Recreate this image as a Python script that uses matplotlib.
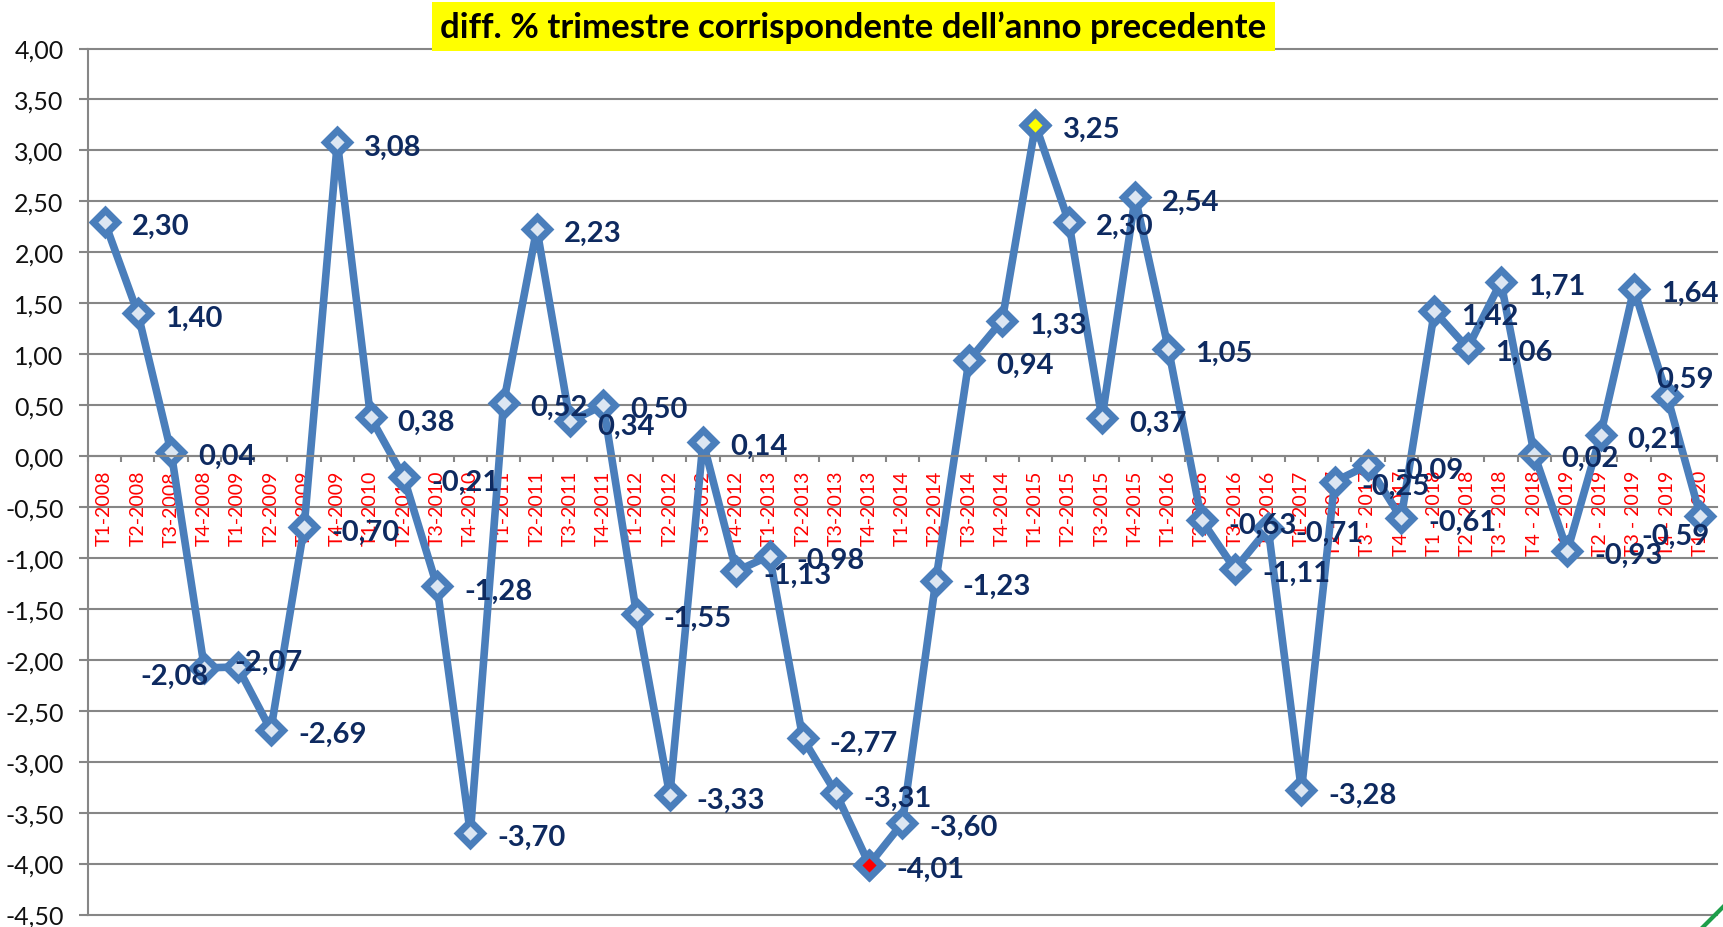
import matplotlib
matplotlib.use("Agg")
import matplotlib.pyplot as plt
from matplotlib.lines import Line2D
from matplotlib.patches import Rectangle
import numpy as np

# ---------------- data ----------------
categories = [
    "T1-2008", "T2-2008", "T3-2008", "T4-2008",
    "T1-2009", "T2-2009", "T3-2009", "T4-2009",
    "T1-2010", "T2-2010", "T3-2010", "T4-2010",
    "T1-2011", "T2-2011", "T3-2011", "T4-2011",
    "T1-2012", "T2-2012", "T3-2012", "T4-2012",
    "T1-2013", "T2-2013", "T3-2013", "T4-2013",
    "T1-2014", "T2-2014", "T3-2014", "T4-2014",
    "T1-2015", "T2-2015", "T3-2015", "T4-2015",
    "T1-2016", "T2-2016", "T3-2016", "T4-2016",
    "T1-2017", "T2 - 2017", "T3 - 2017", "T4 - 2017",
    "T1 - 2018", "T2 - 2018", "T3 - 2018", "T4 - 2018",
    "T1 - 2019", "T2 - 2019", "T3 - 2019", "T4 - 2019",
    "T1 - 2020",
]
values = [
    2.30, 1.40, 0.04, -2.08,
    -2.07, -2.69, -0.70, 3.08,
    0.38, -0.21, -1.28, -3.70,
    0.52, 2.23, 0.34, 0.50,
    -1.55, -3.33, 0.14, -1.13,
    -0.98, -2.77, -3.31, -4.01,
    -3.60, -1.23, 0.94, 1.33,
    3.25, 2.30, 0.37, 2.54,
    1.05, -0.63, -1.11, -0.71,
    -3.28, -0.25, -0.09, -0.61,
    1.42, 1.06, 1.71, 0.02,
    -0.93, 0.21, 1.64, 0.59,
    -0.59,
]
y_ticks = [4.0, 3.5, 3.0, 2.5, 2.0, 1.5, 1.0, 0.5, 0.0, -0.5, -1.0, -1.5,
           -2.0, -2.5, -3.0, -3.5, -4.0, -4.5]
title = "diff. % trimestre corrispondente dell\u2019anno precedente"
min_index = 23   # T4-2013 highlighted red
max_index = 28   # T1-2015 highlighted yellow

# ---------------- style ----------------
FONT = ["Lato", "DejaVu Sans"]
plt.rcParams["font.family"] = FONT
BLUE = "#4A7EBB"
FILL = "#DCE6F2"
GRID = "#868686"
NAVY = "#0E2A60"

W, H = 1723, 928
fig = plt.figure(figsize=(W / 100, H / 100), dpi=100)
fig.patch.set_facecolor("white")

ax_l, ax_r, ax_t, ax_b = 88, 1717, 49.5, 915.5
ax = fig.add_axes([ax_l / W, (H - ax_b) / H, (ax_r - ax_l) / W, (ax_b - ax_t) / H])
ax.set_facecolor("white")
ax.set_axisbelow(True)

n = len(values)
x = np.arange(n)
ax.set_xlim(-0.5, n - 0.5)
ax.set_ylim(min(y_ticks), max(y_ticks))

# grid
for yv in y_ticks:
    ax.axhline(yv, color=GRID, lw=1.5, zorder=0.6, clip_on=False)

# spines
for s in ["top", "right"]:
    ax.spines[s].set_visible(False)
ax.spines["left"].set_color(GRID)
ax.spines["left"].set_linewidth(1.5)
ax.spines["bottom"].set_position(("data", 0))
ax.spines["bottom"].set_color(GRID)
ax.spines["bottom"].set_linewidth(1.5)

# y ticks
ax.set_yticks(y_ticks)
ax.set_yticklabels([f"{v:.2f}".replace(".", ",") for v in y_ticks])
ax.tick_params(axis="y", direction="out", length=6.5, width=1.5, color=GRID,
               labelsize=18, labelcolor="#111111", pad=11)

# x ticks: boundaries (major) + labels (minor)
ax.set_xticks(np.arange(-0.5, n, 1.0))
ax.set_xticklabels([])
ax.tick_params(axis="x", which="major", direction="out", length=4.5, width=1.5, color=GRID)
ax.set_xticks(x, minor=True)
ax.set_xticklabels(categories, minor=True, rotation=90, color="red",
                   fontsize=14, va="top", ha="center")
ax.tick_params(axis="x", which="minor", length=0, pad=10)

# line + markers
MS, MEW = 12, 5
ax.plot(x, values, color=BLUE, lw=5.5, zorder=2, solid_joinstyle="round")
ax.plot(x, values, ls="none", marker="D", ms=MS, mew=MEW, mec=BLUE, mfc=FILL, zorder=2.2)
ax.plot([x[min_index]], [values[min_index]], ls="none", marker="D", ms=MS, mew=MEW,
        mec=BLUE, mfc="red", zorder=2.3)
ax.plot([x[max_index]], [values[max_index]], ls="none", marker="D", ms=MS, mew=MEW,
        mec=BLUE, mfc="yellow", zorder=2.3)

# data labels (offsets in points)
special = {
    3: (3, -6, "right"),
    4: (-2, 4, "left"),
    47: (-8, 12, "left"),
    48: (7, -14, "right"),
}
for i, v in enumerate(values):
    dx, dy, ha = special.get(i, (19.5, -3, "left"))
    ax.annotate(f"{v:.2f}".replace(".", ","), (x[i], v), xytext=(dx, dy),
                textcoords="offset points", ha=ha, va="center",
                fontsize=21, fontweight="bold", color=NAVY, zorder=5,
                annotation_clip=False)

# title with yellow box
bx0, bx1, by0, by1 = 432, 1275, 3, 52
fig.patches.append(Rectangle((bx0 / W, (H - by1) / H), (bx1 - bx0) / W, (by1 - by0) / H,
                             transform=fig.transFigure, facecolor="#FFFF00",
                             edgecolor="none", zorder=10))
fig.text((bx0 + bx1) / 2 / W, (H - (by0 + by1) / 2) / H, title, ha="center", va="center",
         fontsize=25, fontweight="bold", color="black", zorder=11)

# green slide decoration bottom-right
fig.add_artist(Line2D([1703 / W, 1723 / W], [0, 20 / H], color="#1E9E4A", lw=3,
                      transform=fig.transFigure))

fig.savefig("out.png", dpi=100, facecolor="white")
